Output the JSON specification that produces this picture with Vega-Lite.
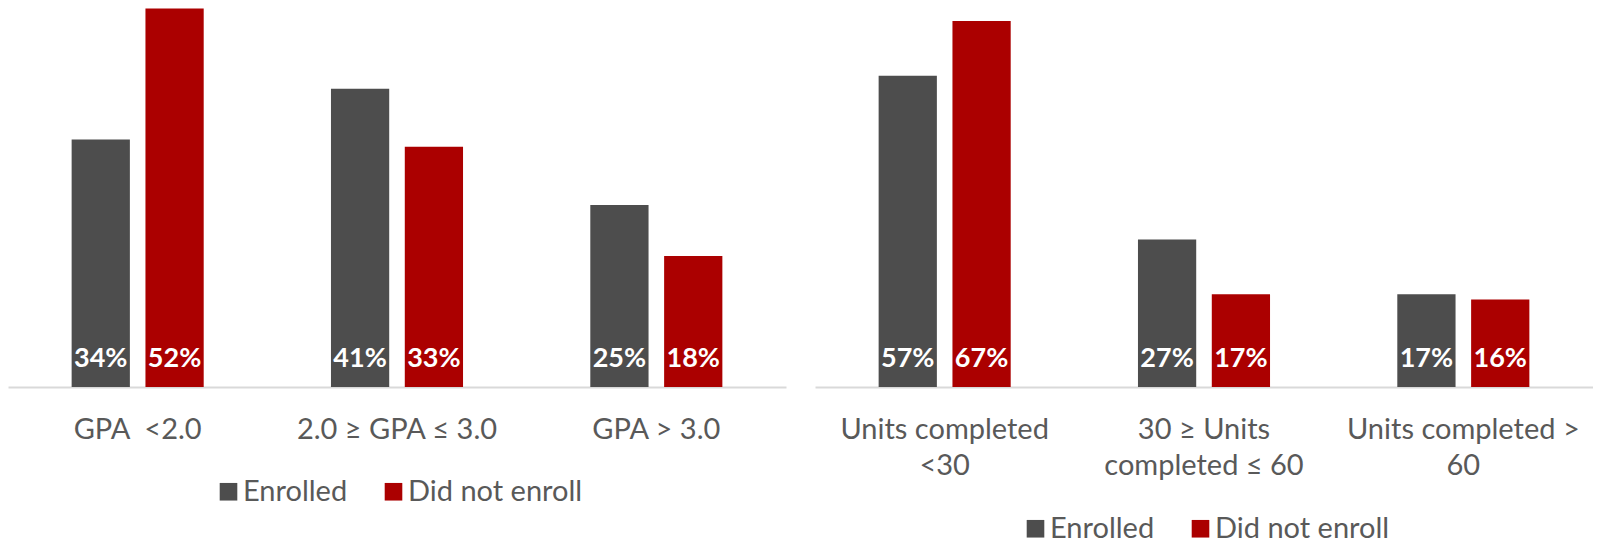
{
  "$schema": "https://vega.github.io/schema/vega-lite/v6.json",
  "background": "white",
  "padding": {"left": 8, "top": 8, "right": 0, "bottom": 0},
  "spacing": 29,
  "datasets": {
    "gpa": [
      {"group": "GPA  <2.0", "status": "Enrolled", "value": 0.34},
      {"group": "GPA  <2.0", "status": "Did not enroll", "value": 0.52},
      {"group": "2.0 ≥ GPA ≤ 3.0", "status": "Enrolled", "value": 0.41},
      {"group": "2.0 ≥ GPA ≤ 3.0", "status": "Did not enroll", "value": 0.33},
      {"group": "GPA > 3.0", "status": "Enrolled", "value": 0.25},
      {"group": "GPA > 3.0", "status": "Did not enroll", "value": 0.18}
    ],
    "units": [
      {"group": "Units completed <30", "status": "Enrolled", "value": 0.57},
      {"group": "Units completed <30", "status": "Did not enroll", "value": 0.67},
      {"group": "30 ≥ Units completed ≤ 60", "status": "Enrolled", "value": 0.27},
      {"group": "30 ≥ Units completed ≤ 60", "status": "Did not enroll", "value": 0.17},
      {"group": "Units completed > 60", "status": "Enrolled", "value": 0.17},
      {"group": "Units completed > 60", "status": "Did not enroll", "value": 0.16}
    ]
  },
  "resolve": {"scale": {"color": "independent", "y": "independent"}, "legend": {"color": "independent"}},
  "hconcat": [
    {
      "width": 778,
      "height": 379,
      "data": {"name": "gpa"},
      "encoding": {
        "x": {
          "field": "group", "type": "nominal",
          "sort": ["GPA  <2.0", "2.0 ≥ GPA ≤ 3.0", "GPA > 3.0"],
          "scale": {"paddingInner": 0, "paddingOuter": 0},
          "axis": {"title": null, "labelExpr": "replace(datum.value, '  ', ' \u00a0')"}
        },
        "xOffset": {
          "field": "status", "type": "nominal",
          "sort": ["Enrolled", "Did not enroll"],
          "scale": {"paddingInner": 0.211, "paddingOuter": 0.862}
        }
      },
      "layer": [
        {
          "mark": {"type": "bar"},
          "encoding": {
            "y": {"field": "value", "type": "quantitative", "scale": {"domain": [0, 0.5208], "nice": false, "zero": true}, "axis": null},
            "color": {
              "field": "status", "type": "nominal",
              "sort": ["Enrolled", "Did not enroll"],
              "scale": {"domain": ["Enrolled", "Did not enroll"], "range": ["#4d4d4d", "#ab0000"]},
              "legend": {"orient": "none", "legendX": 206, "legendY": 469, "direction": "horizontal", "title": null}
            }
          }
        },
        {
          "mark": {"type": "text", "color": "white", "fontWeight": "bold", "fontSize": 27, "font": "Lato", "dy": -20, "baseline": "alphabetic"},
          "encoding": {
            "y": {"datum": 0, "type": "quantitative"},
            "text": {"field": "value", "type": "quantitative", "format": ".0%"}
          }
        }
      ]
    },
    {
      "width": 778,
      "height": 379,
      "data": {"name": "units"},
      "encoding": {
        "x": {
          "field": "group", "type": "nominal",
          "sort": ["Units completed <30", "30 ≥ Units completed ≤ 60", "Units completed > 60"],
          "scale": {"paddingInner": 0, "paddingOuter": 0},
          "axis": {
            "title": null,
            "labelLineHeight": 36,
            "labelExpr": "datum.value == 'Units completed <30' ? ['Units completed', '<30'] : datum.value == '30 ≥ Units completed ≤ 60' ? ['30 ≥ Units', 'completed ≤ 60'] : ['Units completed >', '60']"
          }
        },
        "xOffset": {
          "field": "status", "type": "nominal",
          "sort": ["Enrolled", "Did not enroll"],
          "scale": {"paddingInner": 0.211, "paddingOuter": 0.862}
        }
      },
      "layer": [
        {
          "mark": {"type": "bar"},
          "encoding": {
            "y": {"field": "value", "type": "quantitative", "scale": {"domain": [0, 0.694], "nice": false, "zero": true}, "axis": null},
            "color": {
              "field": "status", "type": "nominal",
              "sort": ["Enrolled", "Did not enroll"],
              "scale": {"domain": ["Enrolled", "Did not enroll"], "range": ["#4d4d4d", "#ab0000"]},
              "legend": {"orient": "none", "legendX": 206, "legendY": 506, "direction": "horizontal", "title": null}
            }
          }
        },
        {
          "mark": {"type": "text", "color": "white", "fontWeight": "bold", "fontSize": 27, "font": "Lato", "dy": -20, "baseline": "alphabetic"},
          "encoding": {
            "y": {"datum": 0, "type": "quantitative"},
            "text": {"field": "value", "type": "quantitative", "format": ".0%"}
          }
        }
      ]
    }
  ],
  "config": {
    "view": {"stroke": null},
    "axisX": {
      "domainColor": "#d9d9d9",
      "domainWidth": 2,
      "ticks": false,
      "grid": false,
      "labelAngle": 0,
      "labelFont": "Lato",
      "labelFontSize": 29,
      "labelColor": "#595959",
      "labelPadding": 28,
      "labelLimit": 0
    },
    "legend": {
      "labelFont": "Lato",
      "labelFontSize": 29,
      "labelColor": "#595959",
      "labelLimit": 0,
      "symbolType": "square",
      "symbolSize": 310,
      "symbolStrokeWidth": 0,
      "labelOffset": 0,
      "columnPadding": 31,
      "padding": 0
    }
  }
}
